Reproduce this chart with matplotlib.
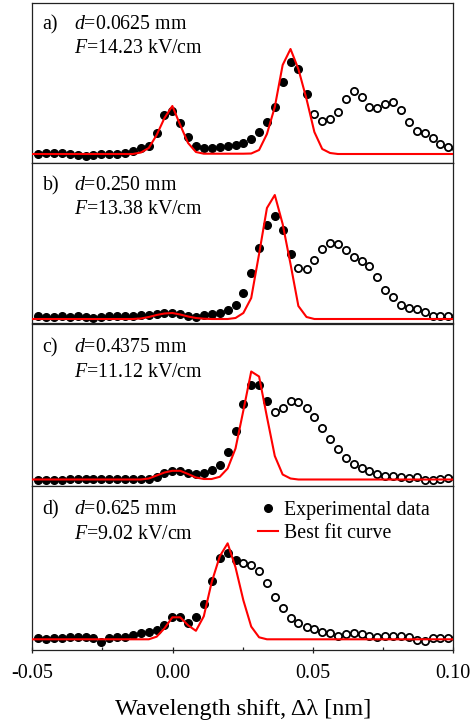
import matplotlib
matplotlib.use("Agg")
import matplotlib.pyplot as plt
from matplotlib.lines import Line2D

plt.rcParams['font.family'] = ['Liberation Serif', 'DejaVu Serif']
plt.rcParams['mathtext.fontset'] = 'custom'
plt.rcParams['mathtext.it'] = 'Liberation Serif:italic'
plt.rcParams['mathtext.rm'] = 'Liberation Serif'

# ---- data ----
wavelength = [-0.0479, -0.0451, -0.0422, -0.0394, -0.0366, -0.0338, -0.0310, -0.0282,
              -0.0254, -0.0226, -0.0198, -0.0170, -0.0142, -0.0113, -0.0085, -0.0057,
              -0.0029, -0.0001, 0.0027, 0.0055, 0.0083, 0.0111, 0.0139, 0.0168,
              0.0196, 0.0224, 0.0252, 0.0280, 0.0308, 0.0336, 0.0364, 0.0392,
              0.0420, 0.0448, 0.0477, 0.0505, 0.0533, 0.0561, 0.0589, 0.0617,
              0.0645, 0.0673, 0.0701, 0.0729, 0.0757, 0.0786, 0.0814, 0.0842,
              0.0870, 0.0898, 0.0926, 0.0954, 0.0982, 0.1010]
fit_wavelength = [-0.0507] + wavelength

data_a = [0, 0.7, 0.7, 0.7, 0, -1, -1.7, -1, 0, 0, 0, 0.7, 3.3, 5.7, 8.3, 20.7, 39, 43,
          30.7, 16.7, 8.3, 5.7, 5.7, 7.3, 8.3, 9, 10.7, 14.7, 22, 32, 47.3, 72, 92.3, 85,
          60, 39.7, 33.2, 34.8, 42.3, 55, 63.2, 56.7, 47, 46.3, 50.5, 51.7, 44, 31.7, 23,
          20.7, 16.5, 10, 7.3, 5.7]
data_b = [2.7, 2, 2, 2.7, 2, 2.7, 2, 1, 2, 2.7, 2.7, 2.7, 2.7, 3.7, 4.3, 5.3, 6, 6,
          5.3, 2.7, 2, 4.3, 5.3, 6, 9, 14.3, 26, 46, 71, 94.3, 103.3, 88.6, 65, 51, 50.3,
          58.6, 70.3, 76, 75, 69.3, 61.6, 58.3, 53.3, 41.6, 29.3, 22, 14.3, 11, 10, 6.6,
          3.3, 3.3, 3.3, 3.3]
data_c = [-0.5, -0.5, 0, 0, 0.5, 0.5, 0.5, 0.5, 0.5, 0.5, 0.5, 0.5, 0.5, 0.5, 1, 2.5,
          6.6, 9, 9, 6.6, 5.3, 6.6, 9.3, 14.3, 27.6, 49, 76, 95, 94.3, 78.6, 67.6, 72,
          78.3, 77.6, 72, 62.3, 51.6, 40.5, 30.5, 22, 16, 11.5, 9, 5.5, 3.5, 3.5, 2.6, 2,
          2.3, -0.6, -0.6, 1, 1.6, 2]
data_d = [1, 0.3, 1, 1.7, 2.7, 2.7, 2.7, 1, -2.3, 1, 2.7, 2.7, 4.3, 6.7, 7.7, 9.3, 14.3,
          22, 22, 16.5, 22, 35.5, 58.5, 81, 86.7, 79.3, 76, 74.3, 68.7, 56, 42.7, 31, 21,
          16, 12.7, 10, 7.7, 6, 3.7, 5, 6, 5.3, 3.7, 2, 3.3, 3.3, 3.3, 2, -0.7, -1.3, 1,
          1, 1, 1]

fit_a = [0] * 14 + [1.5, 6, 19, 36, 48, 29, 11, 2, 0.3, 0.3, 0.3, 0.3, 0.3, 0.3, 0.5, 4,
                    20, 47, 89, 105, 85, 55, 22, 5, 1] + [0] * 16
fit_b = [0] * 14 + [0.5, 2, 4, 5.5, 6, 4.5, 2.5, 1, 0.3, 0, 0, 0, 1, 6, 21, 65, 111, 124,
                    95, 55, 13, 2] + [0] * 19
fit_c = [0] * 15 + [1, 4, 7, 8.7, 8.7, 5.5, 2, 0.5, 0.5, 2.7, 11, 31, 69, 108, 103, 62.6,
                    23.5, 5, 1] + [0] * 21
fit_d = [0] * 16 + [2.6, 11, 22, 22, 14, 8.5, 23, 57, 83, 96, 72, 39, 12.7, 2] + [0] * 25

n_filled = [35, 33, 30, 26]
panel_letters = ['a)', 'b)', 'c)', 'd)']
thickness = ['0.0625', '0.250', '0.4375', '0.625']
field = ['14.23', '13.38', '11.12', '9.02']
tick_values = [-0.05, 0.0, 0.05, 0.10]
tick_labels = ['-0.05', '0.00', '0.05', '0.10']
minor_ticks = [-0.025, 0.025, 0.075]

datas = [data_a, data_b, data_c, data_d]
fits = [fit_a, fit_b, fit_c, fit_d]

# ---- layout (pixels) ----
W, H = 473, 725
fig = plt.figure(figsize=(W / 100, H / 100), dpi=100)
left_px, right_px = 32.3, 453.3
panel_px = [(3, 163), (163, 323.5), (323.5, 485.5), (485.5, 650)]
baseline_px = [154, 319, 479.5, 639.3]
text_base_px = [(29.3, 53.3), (190, 214.3), (352.3, 376.7), (514.3, 539.3)]

for k in range(4):
    top, bot = panel_px[k]
    ax = fig.add_axes([left_px / W, 1 - bot / H, (right_px - left_px) / W, (bot - top) / H])
    b = baseline_px[k]
    ax.set_ylim(b - bot, b - top)
    ax.set_xlim(-0.05, 0.10)
    nf = n_filled[k]
    ax.plot(wavelength[:nf], datas[k][:nf], 'o', color='black', ms=5.5, mew=1.0,
            linestyle='none', zorder=2)
    ax.plot(wavelength[nf:], datas[k][nf:], 'o', mfc='white', mec='black', ms=5.2,
            mew=1.3, linestyle='none', zorder=2)
    ax.plot(fit_wavelength, fits[k], '-', color='#ff0000', lw=1.5, zorder=3)
    for s in ax.spines.values():
        s.set_linewidth(0.9)
        s.set_color('#222222')
    ax.set_yticks([])
    if k < 3:
        ax.set_xticks([])
    else:
        ax.set_xticks(tick_values)
        ax.set_xticklabels(tick_labels, fontsize=14.5)
        ax.set_xticks(minor_ticks, minor=True)
        ax.tick_params(axis='x', which='major', direction='inout', length=4.5, width=0.9,
                       pad=8, colors='#222222', labelcolor='black')
        ax.tick_params(axis='x', which='minor', direction='in', length=2.5, width=0.9,
                       colors='#222222')
        ax.legend(handles=[Line2D([], [], marker='o', color='black', ms=5.5, linestyle='none'),
                           Line2D([], [], color='#ff0000', lw=1.5)],
                  labels=['Experimental data', 'Best fit curve'],
                  loc='upper left', bbox_to_anchor=(258.3 / W, 1 - 501 / H),
                  bbox_transform=fig.transFigure, frameon=False, fontsize=14.3,
                  borderpad=0, borderaxespad=0, handlelength=1.0, handletextpad=0.3,
                  labelspacing=0.2)
    y1, y2 = text_base_px[k]
    fig.text(42.7 / W, 1 - y1 / H, panel_letters[k], fontsize=14.3, va='baseline')
    fig.text(74 / W, 1 - y1 / H, r'$d$=' + thickness[k] + ' mm', fontsize=14.3, va='baseline')
    fig.text(74 / W, 1 - y2 / H, r'$F$=' + field[k] + ' kV/cm', fontsize=14.3, va='baseline')

fig.text(243.3 / W, 1 - 715 / H, 'Wavelength shift, Δλ [nm]', fontsize=17.5,
         ha='center', va='baseline')

fig.savefig('out.png', dpi=100)
